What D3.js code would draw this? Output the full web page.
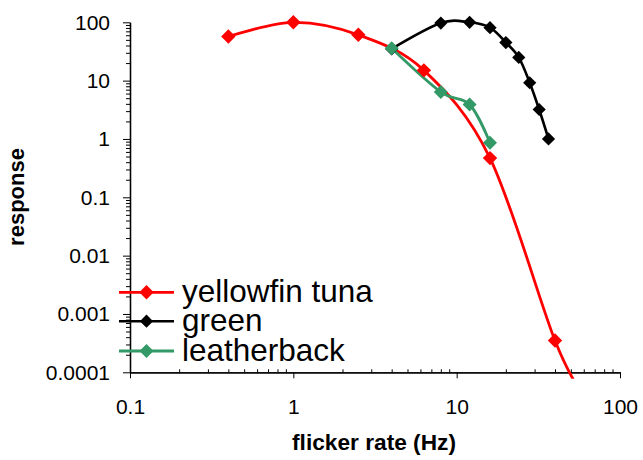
<!DOCTYPE html>
<html>
<head>
<meta charset="utf-8">
<script src="https://cdn.jsdelivr.net/npm/d3@7"></script>
<style>
  html, body { margin: 0; padding: 0; background: #fff; }
  svg { display: block; font-family: Arial, "Liberation Sans", sans-serif; }
</style>
</head>
<body>
<svg id="chart" width="643" height="460"></svg>
<script>
// ---- data ----
const seriesNames = ["yellowfin tuna", "green", "leatherback"];
const seriesColors = ["#FF0000", "#000000", "#339966"];

const tunaX = [0.4, 1, 2.5, 6.3, 16, 40, 60];
const tunaY = [57, 100, 61, 15, 0.47, 0.00035, 0.00004];

const greenX = [4, 8, 12, 16, 20, 24, 28, 32, 36.5];
const greenY = [35, 97, 100, 81, 45, 25, 9.2, 3.2, 1.0];

const leatherX = [4, 8, 12, 16];
const leatherY = [36, 6.4, 3.9, 0.86];

const xTickValues = [0.1, 1, 10, 100];
const xTickLabels = ["0.1", "1", "10", "100"];
const yTickValues = [0.0001, 0.001, 0.01, 0.1, 1, 10, 100];
const yTickLabels = ["0.0001", "0.001", "0.01", "0.1", "1", "10", "100"];

const xTitle = "flicker rate (Hz)";
const yTitle = "response";

// ---- layout ----
const pLeft = 130, pRight = 620, pTop = 22.3, pBottom = 372.3;
const svg = d3.select("#chart");

const x = d3.scaleLog().domain([0.1, 100]).range([pLeft, pRight]);
const y = d3.scaleLog().domain([0.0001, 100]).range([pBottom, pTop]);

function minors(lo, hi) {
  const out = [];
  for (let d = lo; d < hi; d *= 10) for (let k = 2; k <= 9; k++) out.push(d * k);
  return out;
}

// clip
svg.append("defs").append("clipPath").attr("id", "plotclip")
  .append("rect").attr("x", pLeft - 2).attr("y", 0).attr("width", pRight - pLeft + 20).attr("height", pBottom + 6.5);

// ---- axes ----
const xMinor = svg.append("g").attr("transform", `translate(0,${pBottom})`)
  .call(d3.axisBottom(x).tickValues(minors(0.1, 100)).tickSizeInner(-3).tickSizeOuter(0).tickFormat(""));
const xMajor = svg.append("g").attr("transform", `translate(0,${pBottom})`)
  .call(d3.axisBottom(x).tickValues(xTickValues).tickSizeInner(6).tickSizeOuter(0).tickPadding(21)
    .tickFormat((d, i) => xTickLabels[i]));
const yMinor = svg.append("g").attr("transform", `translate(${pLeft},0)`)
  .call(d3.axisLeft(y).tickValues(minors(0.0001, 100)).tickSizeInner(4).tickSizeOuter(0).tickFormat(""));
const yMajor = svg.append("g").attr("transform", `translate(${pLeft},0)`)
  .call(d3.axisLeft(y).tickValues(yTickValues).tickSizeInner(7).tickSizeOuter(0).tickPadding(13)
    .tickFormat((d, i) => yTickLabels[i]));

[xMinor, xMajor, yMinor, yMajor].forEach(g => {
  g.selectAll("path.domain").attr("stroke", "#000").attr("stroke-width", 1.3);
  g.selectAll(".tick line").attr("stroke", "#000").attr("stroke-width", 1);
  g.selectAll(".tick text").attr("font-size", 21).attr("fill", "#000")
    .attr("font-family", 'Arial, "Liberation Sans", sans-serif');
});

// axis titles
svg.append("text").attr("x", (pLeft + pRight) / 2 - 1).attr("y", 449.5)
  .attr("text-anchor", "middle").attr("font-weight", "bold").attr("font-size", 22.7)
  .text(xTitle);
svg.append("text").attr("transform", "translate(24,197) rotate(-90)")
  .attr("text-anchor", "middle").attr("font-weight", "bold").attr("font-size", 22)
  .text(yTitle);

// ---- series ----
const series = [
  { xs: tunaX, ys: tunaY, r: 7.2, w: 2.8 },
  { xs: greenX, ys: greenY, r: 6.6, w: 2.6 },
  { xs: leatherX, ys: leatherY, r: 7.0, w: 2.8 }
].map((s, i) => ({ ...s, name: seriesNames[i], color: seriesColors[i],
  pts: s.xs.map((v, j) => [v, s.ys[j]]) }));

const line = d3.line().x(d => x(d[0])).y(d => y(d[1])).curve(d3.curveCardinal.tension(0));
const diamond = r => `M0,${-r}L${r},0L0,${r}L${-r},0Z`;

const plot = svg.append("g").attr("clip-path", "url(#plotclip)");
series.forEach(s => {
  plot.append("path").attr("d", line(s.pts)).attr("fill", "none")
    .attr("stroke", s.color).attr("stroke-width", s.w).attr("stroke-linejoin", "round");
});
series.forEach(s => {
  plot.selectAll(null).data(s.pts.filter(p => p[1] >= 0.0001 && p[0] <= 100)).enter()
    .append("path").attr("d", diamond(s.r))
    .attr("transform", d => `translate(${x(d[0])},${y(d[1])})`)
    .attr("fill", s.color);
});

// ---- legend ----
const legRows = [292.3, 321.2, 351];
series.forEach((s, i) => {
  const g = svg.append("g").attr("transform", `translate(0,${legRows[i]})`);
  g.append("line").attr("x1", 119).attr("x2", 174).attr("y1", 0).attr("y2", 0)
    .attr("stroke", s.color).attr("stroke-width", s.w);
  g.append("path").attr("d", diamond(s.r)).attr("transform", "translate(146.5,0)").attr("fill", s.color);
  g.append("text").attr("x", 182).attr("y", 10).attr("font-size", 31.5).attr("fill", "#000")
    .text(s.name);
});
</script>
</body>
</html>
